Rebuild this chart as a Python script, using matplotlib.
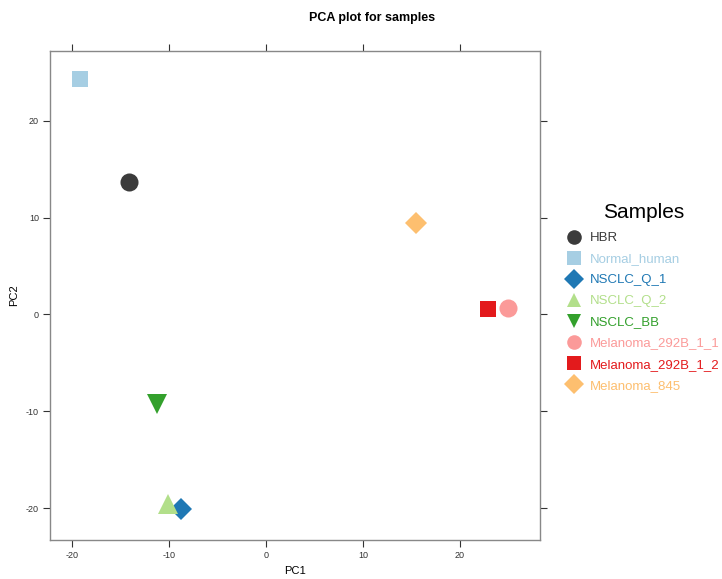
import matplotlib.pyplot as plt

plt.rcParams['font.family'] = ['Liberation Sans', 'DejaVu Sans']
plt.rcParams['axes.unicode_minus'] = False

samples = ['HBR', 'Normal_human', 'NSCLC_Q_1', 'NSCLC_Q_2', 'NSCLC_BB',
           'Melanoma_292B_1_1', 'Melanoma_292B_1_2', 'Melanoma_845']
pc1 = [-14.1, -19.2, -8.8, -10.1, -11.2, 25.0, 22.9, 15.5]
pc2 = [13.7, 24.3, -20.1, -19.6, -9.3, 0.7, 0.6, 9.4]
colors = ['#3b3b3b', '#a6cee3', '#1f78b4', '#b2df8a', '#33a02c',
          '#fb9a99', '#e31a1c', '#fdbf6f']
markers = ['o', 's', 'D', '^', 'v', 'o', 's', 'D']
msizes = [13, 12, 11, 15, 15, 13, 12, 11]

fig = plt.figure(figsize=(7.22, 5.79), dpi=100)
ax = fig.add_axes([50 / 722, 1 - 540 / 579, 490 / 722, 489 / 579])

for x, y, c, m, ms, name in zip(pc1, pc2, colors, markers, msizes, samples):
    ax.plot(x, y, linestyle='none', marker=m, markersize=ms, color=c,
            markeredgewidth=0, label=name)

ax.set_xlim(-22.27, 28.25)
ax.set_ylim(-23.3, 27.2)
ax.set_xticks([-20, -10, 0, 10, 20])
ax.set_yticks([-20, -10, 0, 10, 20])
ax.tick_params(direction='out', length=5, width=0.8, labelsize=6.5,
               top=True, right=True, colors='#333333', pad=3)
for s in ax.spines.values():
    s.set_color('#888888')
    s.set_linewidth(1.0)

fig.text(295 / 722, 1 - 571 / 579, 'PC1', ha='center', va='center', fontsize=8)
fig.text(14 / 722, 1 - 295 / 579, 'PC2', ha='center', va='center', fontsize=8,
         rotation=90)
fig.text(372 / 722, 1 - 18 / 579, 'PCA plot for samples', ha='center', va='center',
         fontsize=9, fontweight='bold')

leg = fig.legend(loc='upper left', bbox_to_anchor=(559 / 722, 1 - 194 / 579),
                 frameon=False, title='Samples', title_fontsize=15, fontsize=9.5,
                 handletextpad=0.75, labelspacing=0.67, borderpad=0.2,
                 handlelength=0.9)
leg._legend_box.sep = 7
for txt, c in zip(leg.get_texts(), colors):
    txt.set_color(c)
for h in leg.legend_handles:
    h.set_markersize(10.5)

fig.savefig('out.png', dpi=100)
